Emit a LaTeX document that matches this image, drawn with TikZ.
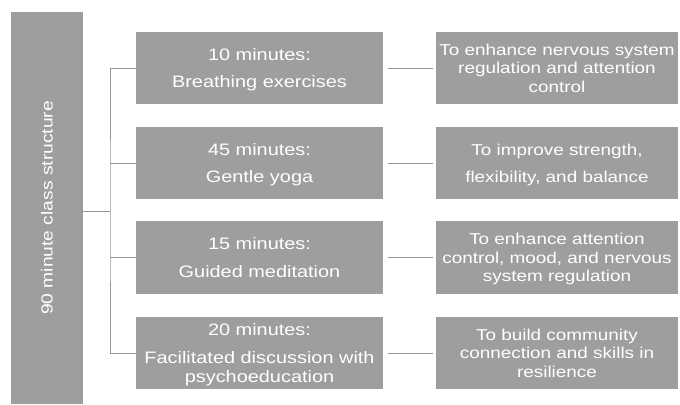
\documentclass[tikz,border=0pt]{standalone}
\usepackage{fontspec}
\setmainfont[FakeStretch=1.2]{Liberation Sans}
\usetikzlibrary{positioning}
\definecolor{boxgray}{RGB}{158,158,158}
\definecolor{linegray}{RGB}{150,150,150}

\begin{document}
\begin{tikzpicture}[x=0.025cm,y=-0.025cm,
  block/.style={fill=boxgray, text=white, align=center, inner sep=0pt, text depth=0pt, minimum height=1.82cm},
  timebox/.style={block, minimum width=6.175cm, font=\fontsize{11.8}{13.5}\selectfont},
  aimbox/.style={block, minimum width=6.05cm, font=\fontsize{11.2}{13.2}\selectfont},
  link/.style={draw=linegray, thin}]
\useasboundingbox (0,0) rectangle (680,404);

\node[block, minimum width=1.8cm, minimum height=9.8cm] (cls) at (47,208)
  {\rotatebox{90}{\fontsize{11.4}{13}\selectfont 90 minute class structure}};

\node[timebox] (t1) at (259.5,68)    {10 minutes:\\[6.3pt] Breathing exercises};
\node[timebox] (t2) at (259.5,163)   {45 minutes:\\[6.3pt] Gentle yoga};
\node[timebox] (t3) at (259.5,257.5) {15 minutes:\\[6.3pt] Guided meditation};
\node[timebox] (t4) at (259.5,353)   {20 minutes:\\[6.3pt] Facilitated discussion with\\ psychoeducation};

\node[aimbox] (a1) at (557,68)    {To enhance nervous system\\ regulation and attention\\ control};
\node[aimbox] (a2) at (557,163)   {To improve strength,\\[6pt] flexibility, and balance};
\node[aimbox] (a3) at (557,257.5) {To enhance attention\\ control, mood, and nervous\\ system regulation};
\node[aimbox] (a4) at (557,353)   {To build community\\ connection and skills in\\ resilience};

% tree from the class box
\coordinate (bus) at (110,211);
\draw[link] (cls.east |- bus) -- (bus);
\draw[link] (t1.west) -| (bus) |- (t4.west);
\draw[link] (t2.west) -- (t2.west -| bus);
\draw[link] (t3.west) -- (t3.west -| bus);

% activity to aim
\foreach \i in {1,...,4}
  \draw[link, shorten <=3pt, shorten >=2pt] (t\i.east) -- (a\i.west);
\end{tikzpicture}
\end{document}
